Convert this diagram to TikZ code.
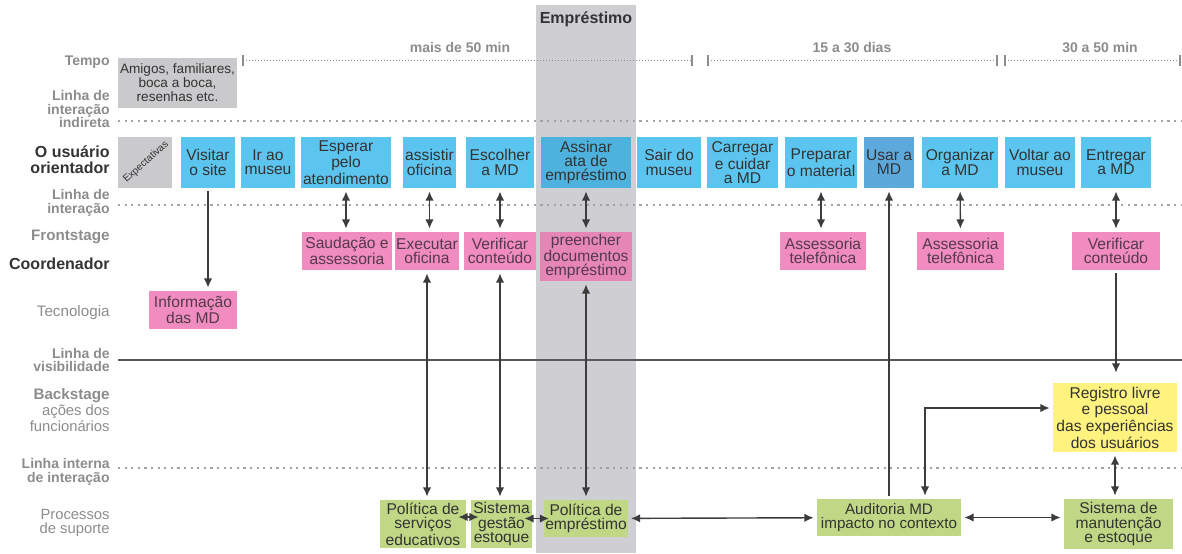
\documentclass[tikz,border=0pt]{standalone}
\usepackage{fontspec}
\setmainfont{Liberation Sans}
\usetikzlibrary{arrows.meta,calc}

\definecolor{userblue}{HTML}{5CC5EF}
\definecolor{userblue2}{HTML}{4DB3DE}
\definecolor{useblue}{HTML}{5DA9DC}
\definecolor{frontpink}{HTML}{F08CBF}
\definecolor{frontpink2}{HTML}{E586B7}
\definecolor{supgreen}{HTML}{C0D886}
\definecolor{backyellow}{HTML}{FFF27E}
\definecolor{colgray}{HTML}{CFCFD3}
\definecolor{boxgray}{HTML}{CACACC}
\definecolor{lanegray}{HTML}{8C8C8C}
\definecolor{darktext}{HTML}{333333}
\definecolor{pinktext}{HTML}{55394B}
\definecolor{linegray}{HTML}{3C3C3C}

\begin{document}
\begin{tikzpicture}[x=0.5pt,y=-0.5pt,>={Latex[length=4.6pt,width=4.2pt]},
                    every edge/.style={draw,linegray,line width=0.7pt,shorten <=1.5pt,shorten >=1.5pt}]
  \tikzstyle{box}=[rectangle,inner sep=0.4pt,align=center,font=\fontsize{7.8}{7.1}\selectfont]
  \tikzstyle{user}=[box,fill=userblue,text=darktext,minimum height=25.5pt]
  \tikzstyle{front}=[box,fill=frontpink,text=pinktext,minimum height=19pt]
  \tikzstyle{support}=[box,fill=supgreen,text=darktext]
  \tikzstyle{lane}=[anchor=east,align=right,inner sep=0pt,text=lanegray,font=\fontsize{7.4}{7}\selectfont]
  \tikzstyle{lanebold}=[lane,font=\fontsize{7}{6.7}\selectfont\bfseries]
  \tikzstyle{actor}=[lane,text=darktext,font=\fontsize{8}{8}\selectfont\bfseries]
  \tikzstyle{period}=[text=lanegray,font=\fontsize{7}{7}\selectfont\bfseries]
  \tikzstyle{sepline}=[lanegray!80,line width=1.1pt,dash pattern=on 1.1pt off 2.2pt]
  \tikzstyle{timeline}=[lanegray,line width=0.5pt,dash pattern=on 0.5pt off 1pt]

  \useasboundingbox (0,0) rectangle (1182,553);

  % loan column
  \fill[colgray] (536,5) rectangle (636,553);
  \node[font=\fontsize{8}{8}\selectfont\bfseries,text=darktext] (loan) at (586,19) {Empréstimo};

  % time axis
  \foreach \a/\b in {243/692,708/997,1005/1180}{
    \draw[timeline] (\a,60) -- (\b,60);
    \draw[lanegray,line width=0.6pt] (\a,55) -- (\a,66) (\b,55) -- (\b,66);
  }
  \node[period] (t1) at (460,47) {mais de 50 min};
  \node[period] (t2) at (852,47) {15 a 30 dias};
  \node[period] (t3) at (1100,47) {30 a 50 min};

  % lines between the lanes
  \draw[sepline] (118,121) -- (1182,121);
  \draw[sepline] (118,205) -- (1182,205);
  \draw[linegray!85,line width=1pt] (118,360) -- (1182,360);
  \draw[sepline] (118,468) -- (1182,468);

  % lane names
  \node[lanebold] (ltime)    at (110,62)  {Tempo};
  \node[lanebold] (lindir)   at (110,109) {Linha de\\interação\\indireta};
  \node[actor]    (luser)    at (110,160) {O usuário\\orientador};
  \node[lanebold] (linter)   at (110,203) {Linha de\\interação};
  \node[lanebold,font=\fontsize{7.6}{7.6}\selectfont\bfseries] (lfront) at (110,237) {Frontstage};
  \node[actor]    (lcoord)   at (110,264) {Coordenador};
  \node[lane,font=\fontsize{7.6}{7.6}\selectfont] (ltech) at (110,313) {Tecnologia};
  \node[lanebold] (lvis)     at (110,360) {Linha de\\visibilidade};
  \node[lanebold,font=\fontsize{7.6}{7.6}\selectfont\bfseries] (lback) at (110,396) {Backstage};
  \node[lane]     (lstaff)   at (110,418) {ações dos\\funcionários};
  \node[lanebold] (linner)   at (110,472) {Linha interna\\de interação};
  \node[lane]     (lsupport) at (110,523) {Processos\\de suporte};

  % before the visit
  \node[box,fill=boxgray,text=darktext,minimum width=59.5pt,minimum height=25pt,
        font=\fontsize{6.8}{7}\selectfont] (friends) at (177.5,83) {Amigos, familiares,\\boca a boca,\\resenhas etc.};
  \node[box,fill=boxgray,minimum width=27pt,minimum height=25.5pt] (expect) at (145,162.5) {};
  \node[rotate=42,inner sep=0pt,text=darktext,font=\fontsize{5}{5}\selectfont] (expectxt) at (146,162) {Expectativas};

  % user actions
  \node[user,minimum width=27pt]   (visit)    at (208,162.5)  {Visitar\\o site};
  \node[user,minimum width=27pt]   (go)       at (268,162.5)  {Ir ao\\museu};
  \node[user,minimum width=45pt]   (wait)     at (346,162.5)  {Esperar\\pelo\\atendimento};
  \node[user,minimum width=26.5pt] (attend)   at (429.5,162.5){assistir\\oficina};
  \node[user,minimum width=34pt]   (choose)   at (500,162.5)  {Escolher\\a MD};
  \node[user,fill=userblue2,minimum width=45pt] (sign) at (586,162.5) {Assinar\\ata de\\empréstimo};
  \node[user,minimum width=32pt]   (leave)    at (669,162.5)  {Sair do\\museu};
  \node[user,minimum width=35.5pt] (carry)    at (742.5,162.5){Carregar\\e cuidar\\a MD};
  \node[user,minimum width=36pt]   (prepare)  at (821,162.5)  {Preparar\\o material};
  \node[user,fill=useblue,minimum width=25pt] (use) at (889,162.5) {Usar a\\MD};
  \node[user,minimum width=38pt]   (organize) at (960,162.5)  {Organizar\\a MD};
  \node[user,minimum width=35pt]   (back)     at (1040,162.5) {Voltar ao\\museu};
  \node[user,minimum width=35pt]   (deliver)  at (1116,162.5) {Entregar\\a MD};

  % coordinator and technology
  \node[front,minimum width=45pt]   (greet)   at (347,251)    {Saudação e\\assessoria};
  \node[front,minimum width=31pt]   (run)     at (427,251)    {Executar\\oficina};
  \node[front,minimum width=36pt]   (check)   at (500,251)    {Verificar\\conteúdo};
  \node[front,fill=frontpink2,minimum width=46pt,minimum height=24.5pt] (fill) at (586,256.5) {preencher\\documentos\\empréstimo};
  \node[front,minimum width=43pt]   (phone)   at (823,251)    {Assessoria\\telefônica};
  \node[front,minimum width=43.5pt] (phonetwo) at (960.5,251) {Assessoria\\telefônica};
  \node[front,minimum width=44pt]   (checktwo) at (1116,251)  {Verificar\\conteúdo};
  \node[front,minimum width=44pt]   (info)    at (193,310)    {Informação\\das MD};

  % backstage
  \node[box,fill=backyellow,text=darktext,minimum width=62pt,minimum height=34.5pt] (record) at (1115,417.5)
        {Registro livre\\e pessoal\\das experiências\\dos usuários};

  % support processes
  \node[support,minimum width=43pt,minimum height=24pt]     (edupol)  at (423,524)    {Política de\\serviços\\educativos};
  \node[support,minimum width=30.5pt,minimum height=24pt]   (stock)   at (501.5,524)  {Sistema\\gestão\\estoque};
  \node[support,minimum width=41pt,minimum height=18.5pt]   (loanpol) at (586,518.5)  {Política de\\empréstimo};
  \node[support,minimum width=72pt,minimum height=18.5pt,font=\fontsize{7.6}{7.1}\selectfont] (audit) at (889,517.5) {Auditoria MD\\impacto no contexto};
  \node[support,minimum width=54.5pt,minimum height=25pt]   (upkeep)  at (1118.5,524) {Sistema de\\manutenção\\e estoque};

  \coordinate (turn) at (925,408);

  \path (visit.south) edge[->] (visit.south |- info.north)
        (wait.south) edge[<->] (wait.south |- greet.north)
        (attend.south) edge[<->] (attend.south |- run.north)
        (choose.south) edge[<->] (check)
        (sign) edge[<->] (fill)
        (prepare.south) edge[<->] (prepare.south |- phone.north)
        (organize) edge[<->] (phonetwo)
        (deliver) edge[<->] (checktwo)
        (run.south) edge[<->] (run.south |- edupol.north)
        (check) edge[<->] (check |- stock.north)
        (fill) edge[<->] (loanpol)
        (audit) edge[->] (use)
        (checktwo.south) edge[->,shorten >=5pt] (checktwo.south |- record.north)
        (record.south) edge[<->] (record.south |- upkeep.north)
        ([xshift=-4pt,yshift=3.5pt]edupol.east) edge[<->,shorten <=0pt,shorten >=0pt] ([xshift=4pt,yshift=3.5pt]stock.west)
        ([xshift=-4pt]loanpol.west -| stock.east) edge[<->,shorten <=0pt,shorten >=0pt] ([xshift=2.5pt]loanpol.west)
        (loanpol) edge[<->] (audit)
        (audit.east) edge[<->] (audit.east -| upkeep.west);
  \draw[<->,linegray,line width=0.7pt,shorten <=1.5pt,shorten >=1.5pt]
        (audit.north -| turn) -- (turn) -- (turn -| record.west);
\end{tikzpicture}
\end{document}
